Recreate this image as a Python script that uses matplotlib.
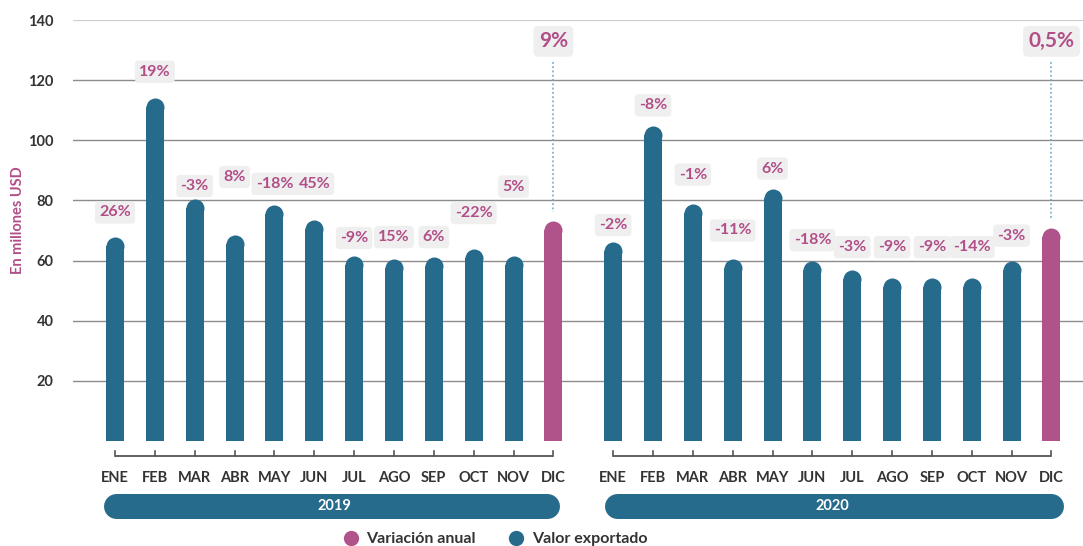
import matplotlib
matplotlib.use("Agg")
import matplotlib.pyplot as plt
from matplotlib.lines import Line2D
import numpy as np

# ---------------- data ----------------
months = ["ENE", "FEB", "MAR", "ABR", "MAY", "JUN", "JUL", "AGO", "SEP", "OCT", "NOV", "DIC"]
years = ["2019", "2020"]
values_2019 = [67.9, 114.2, 80.4, 68.5, 78.5, 73.5, 61.6, 60.4, 61.3, 63.9, 61.6, 73.3]
values_2020 = [66.1, 104.6, 78.7, 60.5, 83.8, 60.0, 56.9, 54.3, 54.3, 54.3, 60.0, 70.9]
labels_2019 = ["26%", "19%", "-3%", "8%", "-18%", "45%", "-9%", "15%", "6%", "-22%", "5%", "9%"]
labels_2020 = ["-2%", "-8%", "-1%", "-11%", "6%", "-18%", "-3%", "-9%", "-9%", "-14%", "-3%", "0,5%"]
# label heights (in axis units) as placed in the reference
label_y_2019 = [76.0, 122.8, 84.8, 87.8, 85.5, 85.5, 67.5, 67.8, 67.8, 75.8, 84.6, 132.9]
label_y_2020 = [71.8, 111.6, 88.6, 70.0, 90.6, 66.8, 64.5, 64.5, 64.5, 64.5, 68.3, 132.9]
yticks = [20, 40, 60, 80, 100, 120, 140]
legend_labels = ["Variación anual", "Valor exportado"]
ylabel = "En millones USD"

# ---------------- style ----------------
BLUE = "#266a8c"
PINK = "#b0538b"
PINK_TXT = "#b24e88"
DARK = "#333333"
BOXC = "#efefef"
FONT = "Lato"

W, H = 1083, 546
fig = plt.figure(figsize=(W / 100, H / 100), dpi=100)
ax_left, ax_right, ax_bottom, ax_top = 73, 1083, 441, 20
ax = fig.add_axes([ax_left / W, (H - ax_bottom) / H, (ax_right - ax_left) / W, (ax_bottom - ax_top) / H])

px0, step = 115.0, 39.85
x19 = np.arange(12, dtype=float)
x20 = np.arange(12, dtype=float) + 12.5
ax.set_xlim((ax_left - px0) / step, (ax_right - px0) / step)
ax.set_ylim(0, 140)

ypx = (ax_bottom - ax_top) / 140.0  # pixels per y unit
def py(px_below):  # pixels below axis bottom -> data y
    return -px_below / ypx

for s in ax.spines.values():
    s.set_visible(False)
ax.set_xticks([])
ax.set_yticks(yticks)
ax.set_yticklabels([str(v) for v in yticks], fontsize=10.5, color=DARK, fontfamily=FONT, fontweight="bold")
ax.tick_params(axis="y", length=0, pad=14)
ax.yaxis.grid(True, color="#8c8c8c", lw=1.0)
ax.set_axisbelow(True)
gl = ax.get_ygridlines()
gl[-1].set_color("#cfcfcf")
gl[-1].set_linewidth(1.6)

bar_w = 18.0 / step
r_y = 9.0 / ypx
ms = 18.0 * 72 / 100

def draw_year(xs, vals, labs, laby):
    cols = [BLUE] * 11 + [PINK]
    v = np.array(vals)
    ax.bar(xs, v - r_y, width=bar_w, color=cols, zorder=3, linewidth=0)
    for x, val, c in zip(xs, v, cols):
        ax.plot([x], [val - r_y], marker="o", ms=ms, color=c, mec="none", zorder=3)
    for i, (x, lab, ly) in enumerate(zip(xs, labs, laby)):
        big = i == 11
        ax.text(x, ly, lab, ha="center", va="center", fontsize=15 if big else 11.5,
                color=PINK_TXT, fontfamily=FONT, fontweight="bold", zorder=5,
                bbox=dict(boxstyle="round,pad=0.26,rounding_size=0.25", fc=BOXC, ec="none"))
    # dotted guide for the annual variation
    ax.plot([xs[-1], xs[-1]], [126.0, v[-1] + 2.7], ls=(0, (1.2, 1.6)), color="#6aa6c8", lw=1.1, zorder=2)
    # bracket axis
    yb, yt = py(15), py(10)
    ax.plot([xs[0], xs[-1]], [yb, yb], color="#555555", lw=1.3, clip_on=False, solid_capstyle="butt")
    for x in xs:
        ax.plot([x, x], [yb, yt], color="#555555", lw=1.2, clip_on=False)
    for x, m in zip(xs, months):
        ax.text(x, py(37), m, ha="center", va="center", fontsize=10.5, color=DARK,
                fontfamily=FONT, fontweight="bold", clip_on=False)

draw_year(x19, values_2019, labels_2019, label_y_2019)
draw_year(x20, values_2020, labels_2020, label_y_2020)

# year pills
pill_lw = 25.0 * 72 / 100
for xs, yr, a, b in [(x19, years[0], 0.03, -0.17), (x20, years[1], 0.09, 0.0)]:
    ax.plot([xs[0] + a, xs[-1] + b], [py(65), py(65)], color=BLUE, lw=pill_lw,
            solid_capstyle="round", clip_on=False)
    ax.text((xs[0] + xs[-1]) / 2, py(65), yr, ha="center", va="center", fontsize=10.5,
            color="white", fontfamily=FONT, fontweight="bold", clip_on=False)

# y label
fig.text(18 / W, 1 - 220 / H, ylabel, rotation=90, ha="center", va="center", fontsize=10.5,
         color=PINK_TXT, fontfamily=FONT, fontweight="bold")

# legend
handles = [Line2D([], [], marker="o", ls="none", ms=11, color=PINK, mec="none"),
           Line2D([], [], marker="o", ls="none", ms=11, color=BLUE, mec="none")]
leg = fig.legend(handles, legend_labels, loc="center", bbox_to_anchor=(495 / W, 1 - 539 / H),
                 ncol=2, frameon=False, handletextpad=0.5, columnspacing=2.0, handlelength=1.0,
                 prop={"family": FONT, "size": 11.5, "weight": "bold"})
for t in leg.get_texts():
    t.set_color(DARK)

fig.savefig("out.png", dpi=100)
